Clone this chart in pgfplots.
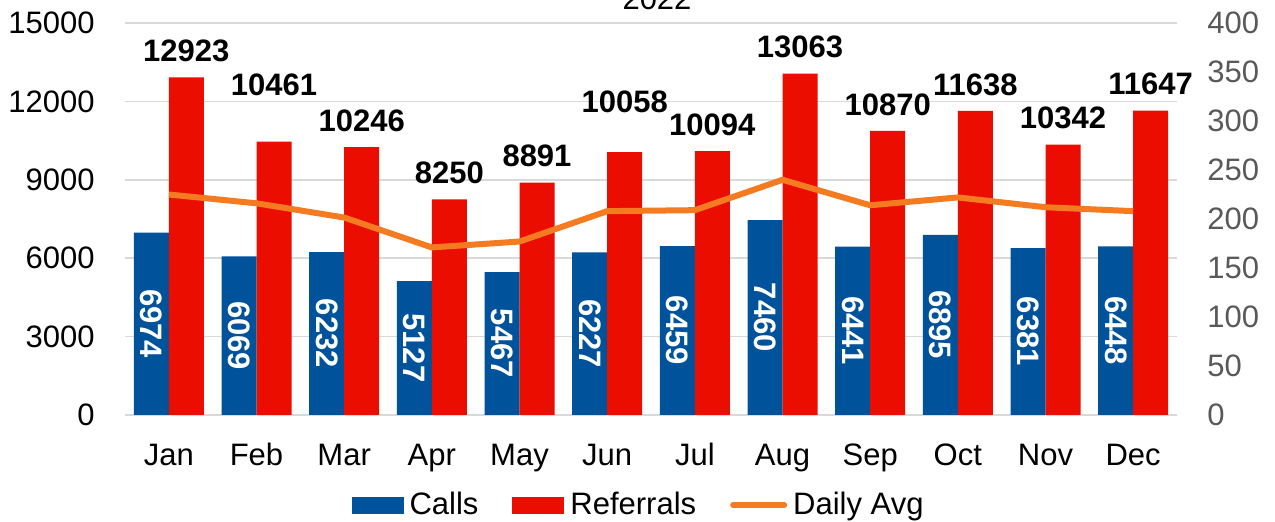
\documentclass[border=0pt]{standalone}
\usepackage{fontspec}
\setmainfont{Liberation Sans}
\usepackage{pgfplots}
\pgfplotsset{compat=1.18}
\definecolor{cblue}{HTML}{00529B}
\definecolor{cred}{HTML}{EA0D00}
\definecolor{corange}{HTML}{F47B20}
\definecolor{cgrid}{HTML}{D9D9D9}
\definecolor{cgray}{HTML}{595959}
\newcommand{\fs}{\fontsize{15.5bp}{18bp}\selectfont}
\begin{document}
\begin{tikzpicture}
\path[use as bounding box] (0,0) rectangle (637.5bp,261bp);
\node[font=\fs, anchor=base] at (328.5bp,256bp) {2022};
\begin{axis}[
  at={(62.5bp,53.5bp)}, anchor=south west,
  scale only axis, width=526bp, height=196bp,
  xmin=-0.5, xmax=11.5, ymin=0, ymax=15000,
  ybar, bar width=17.5bp,
  xtick={0,...,11},
  xticklabels={Jan,Feb,Mar,Apr,May,Jun,Jul,Aug,Sep,Oct,Nov,Dec},
  ytick={0,3000,...,15000},
  scaled y ticks=false,
  major tick length=0pt,
  axis line style={draw=none},
  ymajorgrids, grid style={cgrid, line width=0.75bp},
  tick label style={font=\fs, text=black},
  xticklabel style={anchor=base, inner sep=0pt, yshift=-25.5bp},
  yticklabel style={anchor=east, inner sep=0pt, xshift=-15bp},
  /pgf/number format/1000 sep={},
  /pgf/number format/assume math mode=true,
  legend columns=3,
  legend style={at={(0.4872,-0.2296)}, anchor=center, draw=none, fill=none, font=\fs,
    nodes={inner sep=0pt},
    /tikz/every odd column/.append style={column sep=3bp},
    /tikz/every even column/.append style={column sep=17bp}},
]
\addplot[fill=cblue, draw=none, bar shift=-8.75bp,
  visualization depends on={rawy \as \rawy},
  nodes near coords,
  every node near coord/.append style={font=\fs\bfseries, text=white, inner sep=0pt,
    anchor=center, yshift=-\rawy*0.0065333bp, rotate=-90},
  legend image code/.code={\fill[cblue] (0bp,-4.25bp) rectangle (26bp,4.25bp);}]
coordinates {(0,6974) (1,6069) (2,6232) (3,5127) (4,5467) (5,6227) (6,6459) (7,7460) (8,6441) (9,6895) (10,6381) (11,6448)};
\addlegendentry{Calls}
\addplot[fill=cred, draw=none, bar shift=8.75bp,
  visualization depends on={\thisrow{lift} \as \lift},
  nodes near coords,
  every node near coord/.append style={font=\fs\bfseries, text=black, inner sep=0pt,
    anchor=south, yshift=7.5bp+\lift bp},
  legend image code/.code={\fill[cred] (0bp,-4.25bp) rectangle (26bp,4.25bp);}]
table[x=x, y=y] {
x y lift
0 12923 0
1 10461 15
2 10246 0
3 8250 0
4 8891 0
5 10058 12
6 10094 0
7 13063 0
8 10870 0
9 11638 0
10 10342 0
11 11647 0
};
\addlegendentry{Referrals}
\addlegendimage{legend image code/.code={\draw[corange, line width=3bp, line cap=round] (1.5bp,0bp) -- (27bp,0bp);}}
\addlegendentry{Daily Avg}
\end{axis}
\begin{axis}[
  at={(62.5bp,53.5bp)}, anchor=south west,
  scale only axis, width=526bp, height=196bp,
  xmin=-0.5, xmax=11.5, ymin=0, ymax=400,
  hide x axis,
  axis y line*=right,
  ytick={0,50,...,400},
  major tick length=0pt,
  axis line style={draw=none},
  yticklabel style={font=\fs, text=cgray, anchor=west, inner sep=0pt, xshift=15bp},
  /pgf/number format/1000 sep={},
  /pgf/number format/assume math mode=true,
]
\addplot[corange, line width=3bp, mark=none, line join=round]
coordinates {(0,225) (1,216) (2,201.5) (3,171) (4,177) (5,208) (6,209) (7,240) (8,214) (9,222) (10,212) (11,208)};
\end{axis}
\end{tikzpicture}
\end{document}
